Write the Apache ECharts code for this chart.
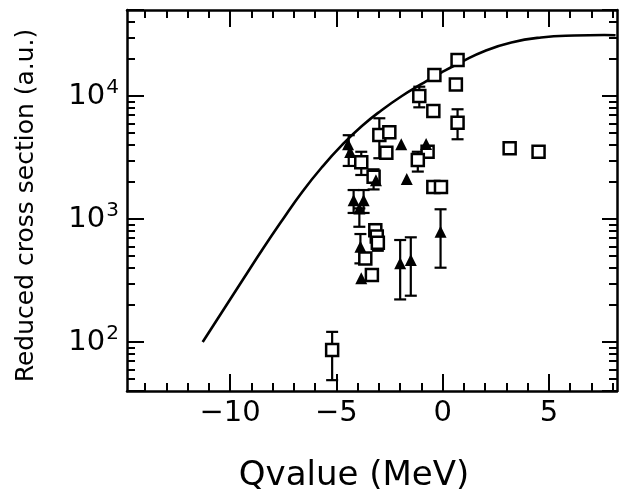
<!DOCTYPE html>
<html>
<head>
<meta charset="utf-8">
<script src="https://cdn.jsdelivr.net/npm/echarts@6/dist/echarts.min.js"></script>
<style>html,body{margin:0;padding:0;background:#fff;}#c{width:623px;height:494px;}</style>
</head>
<body>
<div id="c"></div>
<script>
// ---- axis ranges & ticks ----
var xMin = -14.85, xMax = 8.2;
var yMin = 40, yMax = 50000;
var xMajorTicks = [-10, -5, 0, 5];
var xMinorTicks = [-14, -13, -12, -11, -9, -8, -7, -6, -4, -3, -2, -1, 1, 2, 3, 4, 6, 7, 8];
var yMinorTicks = [50, 60, 70, 80, 90, 200, 300, 400, 500, 600, 700, 800, 900,
                   2000, 3000, 4000, 5000, 6000, 7000, 8000, 9000, 20000, 30000, 40000];

// ---- theory curve ----
var curveX = [-11.29, -10.35, -9.41, -8.48, -7.54, -6.61, -5.67, -4.73, -3.80, -2.86,
              -1.92, -0.99, -0.05, 0.88, 1.98, 3.23, 4.63, 6.19, 7.60, 8.13];
var curveY = [100, 179, 319, 565, 982, 1660, 2650, 4000, 5700, 7690,
              10000, 12520, 15530, 18880, 23220, 27230, 29900, 31050, 31340, 31130];

// ---- open squares [Q, sigma] ----
var squarePts = [
  [0.70, 19600], [-0.39, 14800], [0.62, 12400], [-1.10, 10000], [-0.44, 7550],
  [0.70, 6070], [-2.98, 4820], [-2.51, 5070], [-2.65, 3460], [-0.71, 3520],
  [-1.17, 3020], [3.15, 3760], [4.51, 3520], [-3.83, 2890], [-3.25, 2210],
  [-0.44, 1820], [-0.08, 1820], [-3.17, 810], [-3.10, 720], [-3.05, 640],
  [-3.64, 478], [-3.33, 351], [-5.20, 86]
];
// error bars for squares [Q, low, high]
var squareErr = [
  [-1.10, 8090, 11900], [0.70, 4450, 7800], [-2.98, 3120, 6590], [-1.17, 2430, 3520],
  [-3.83, 2280, 3520], [-3.25, 1740, 2535], [-3.17, 730, 910], [-3.05, 552, 700],
  [-5.20, 49, 121]
];

// ---- filled triangles [Q, sigma] ----
var trianglePts = [
  [-4.45, 4050], [-4.35, 3500], [-1.95, 4050], [-0.78, 4070], [-1.69, 2110],
  [-3.14, 2070], [-4.19, 1420], [-3.72, 1420], [-3.92, 1220], [-3.87, 596],
  [-3.83, 330], [-2.00, 436], [-1.50, 464], [-0.10, 789]
];
// error bars for triangles [Q, low, high]
var triangleErr = [
  [-4.42, 2700, 4800], [-4.19, 1120, 1720], [-3.72, 1120, 1720], [-3.92, 865, 1220],
  [-3.87, 436, 755], [-2.00, 222, 675], [-1.50, 238, 710], [-0.10, 402, 1200]
];

var FONT = 'DejaVu Sans';
var black = '#000';

function errItem(params, api) {
  var x = api.value(0), lo = api.value(1), hi = api.value(2);
  var pTop = api.coord([x, hi]);
  var pBot = api.coord([x, lo]);
  var w = 6;
  var st = {stroke: black, lineWidth: 2.2};
  return {type: 'group', children: [
    {type: 'line', shape: {x1: pTop[0], y1: pTop[1], x2: pBot[0], y2: pBot[1]}, style: st},
    {type: 'line', shape: {x1: pTop[0] - w, y1: pTop[1], x2: pTop[0] + w, y2: pTop[1]}, style: st},
    {type: 'line', shape: {x1: pBot[0] - w, y1: pBot[1], x2: pBot[0] + w, y2: pBot[1]}, style: st}
  ]};
}

function xFmt(v) {
  return v < 0 ? '\u2212' + Math.abs(v) : String(v);
}
function yFmt(v) {
  var n = Math.round(Math.log10(v));
  if (Math.abs(v - Math.pow(10, n)) / v > 1e-6) return '';
  return '{b|10}{s|' + n + '}';
}

var lineW = 2.5;
var xAxes = [
  {position: 'bottom', major: true, label: true},
  {position: 'bottom', major: false},
  {position: 'top', major: true},
  {position: 'top', major: false}
].map(function (a, i) {
  var o = {
    type: 'value', gridIndex: 0, position: a.position, min: xMin, max: xMax,
    splitLine: {show: false},
    axisLine: {show: a.major, onZero: false, lineStyle: {color: black, width: lineW}},
    axisTick: {show: true, inside: true, length: a.major ? 17 : 8,
      lineStyle: {color: black, width: 2},
      customValues: a.major ? xMajorTicks : xMinorTicks},
    axisLabel: {show: false}
  };
  if (a.label) {
    o.axisLabel = {show: true, customValues: xMajorTicks, formatter: xFmt,
      color: black, fontFamily: FONT, fontSize: 29, margin: 8};
    o.name = 'Qvalue (MeV)';
    o.nameLocation = 'middle';
    o.nameGap = 68;
    o.nameTextStyle = {color: black, fontFamily: FONT, fontSize: 34, padding: [0, 36, 0, 0]};
  }
  return o;
});

var yLogMin = Math.log10(yMin), yLogMax = Math.log10(yMax);
var yMinorLog = yMinorTicks.map(function (v) { return Math.log10(v); });

var yAxes = [
  {type: 'log', logBase: 10, position: 'left', min: yMin, max: yMax,
    splitLine: {show: false},
    axisLine: {show: true, onZero: false, lineStyle: {color: black, width: lineW}},
    axisTick: {show: true, inside: true, length: 17, lineStyle: {color: black, width: 2}},
    axisLabel: {show: true, formatter: yFmt, margin: 8,
      rich: {
        b: {fontFamily: FONT, fontSize: 29, color: black},
        s: {fontFamily: FONT, fontSize: 20, color: black, padding: [0, 0, 16, 1]}
      }},
    name: 'Reduced cross section (a.u.)', nameLocation: 'middle', nameGap: 88,
    nameTextStyle: {color: black, fontFamily: FONT, fontSize: 25, padding: [0, 10, 0, 0]}
  },
  {type: 'value', position: 'left', min: yLogMin, max: yLogMax,
    splitLine: {show: false}, axisLine: {show: false, onZero: false},
    axisTick: {show: true, inside: true, length: 8, lineStyle: {color: black, width: 2}, customValues: yMinorLog},
    axisLabel: {show: false}},
  {type: 'log', logBase: 10, position: 'right', min: yMin, max: yMax,
    splitLine: {show: false},
    axisLine: {show: true, onZero: false, lineStyle: {color: black, width: lineW}},
    axisTick: {show: true, inside: true, length: 15, lineStyle: {color: black, width: 2}},
    axisLabel: {show: false}},
  {type: 'value', position: 'right', min: yLogMin, max: yLogMax,
    splitLine: {show: false}, axisLine: {show: false, onZero: false},
    axisTick: {show: true, inside: true, length: 8, lineStyle: {color: black, width: 2}, customValues: yMinorLog},
    axisLabel: {show: false}}
];

var curveData = curveX.map(function (x, i) { return [x, curveY[i]]; });

var chart = echarts.init(document.getElementById('c'), null, {renderer: 'canvas'});
chart.setOption({
  backgroundColor: '#fff',
  animation: false,
  grid: {left: 127, right: 6, top: 10, bottom: 103, outerBoundsMode: 'none', containLabel: false},
  xAxis: xAxes,
  yAxis: yAxes,
  series: [
    {type: 'line', xAxisIndex: 0, yAxisIndex: 0, data: curveData, smooth: true,
      showSymbol: false, symbol: 'none', lineStyle: {color: black, width: 2.6}, z: 2},
    {type: 'custom', xAxisIndex: 0, yAxisIndex: 0, data: squareErr, renderItem: errItem,
      encode: {x: 0, y: [1, 2]}, z: 3},
    {type: 'custom', xAxisIndex: 0, yAxisIndex: 0, data: triangleErr, renderItem: errItem,
      encode: {x: 0, y: [1, 2]}, z: 3},
    {type: 'scatter', xAxisIndex: 0, yAxisIndex: 0, data: squarePts, symbol: 'rect', symbolSize: 12,
      itemStyle: {color: '#fff', borderColor: black, borderWidth: 2.5, opacity: 1}, z: 4},
    {type: 'scatter', xAxisIndex: 0, yAxisIndex: 0, data: trianglePts, symbol: 'triangle', symbolSize: 12,
      itemStyle: {color: black, opacity: 1}, z: 5}
  ]
});
</script>
</body>
</html>
